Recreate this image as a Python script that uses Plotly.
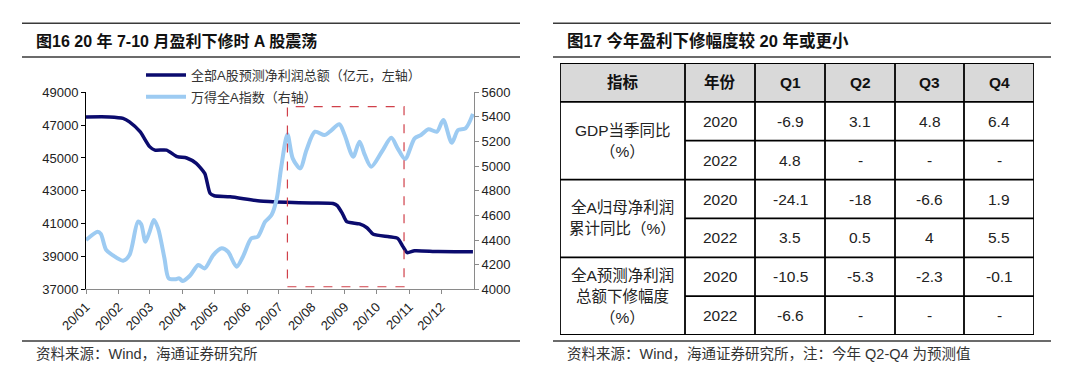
import plotly.graph_objects as go

# ---------------- data: left chart ----------------
profit_dates = ["2020-01-01", "2020-01-23", "2020-02-05", "2020-02-11", "2020-02-21", "2020-03-01",
                "2020-03-06", "2020-03-17", "2020-03-27", "2020-04-05", "2020-04-14", "2020-04-22",
                "2020-04-27", "2020-05-01", "2020-05-16", "2020-06-13", "2020-07-08", "2020-08-01",
                "2020-08-21", "2020-08-25", "2020-08-30", "2020-09-03", "2020-09-15", "2020-09-22",
                "2020-09-28", "2020-10-13", "2020-10-21", "2020-10-26", "2020-10-30", "2020-11-06",
                "2020-11-28", "2020-12-31"]
profit_values = [47500, 47500, 47410, 47200, 46600, 45690,
                 45480, 45480, 45080, 45000, 44670, 44060,
                 42850, 42700, 42640, 42380, 42300, 42260,
                 42230, 42100, 41600, 41120, 40980, 40750,
                 40350, 40200, 40100, 39600, 39230, 39350,
                 39300, 39290]

index_dates = ["2020-01-01", "2020-01-12", "2020-01-15", "2020-01-20", "2020-01-26", "2020-02-05",
               "2020-02-11", "2020-02-19", "2020-02-22", "2020-02-26", "2020-03-01", "2020-03-05",
               "2020-03-09", "2020-03-15", "2020-03-19", "2020-03-25", "2020-03-29", "2020-04-01",
               "2020-04-08", "2020-04-16", "2020-04-22", "2020-04-30", "2020-05-08", "2020-05-14",
               "2020-05-22", "2020-05-28", "2020-06-05", "2020-06-11", "2020-06-18", "2020-06-24",
               "2020-06-29", "2020-07-03", "2020-07-09", "2020-07-14", "2020-07-21", "2020-07-27",
               "2020-08-04", "2020-08-13", "2020-08-18", "2020-08-27", "2020-09-01", "2020-09-09",
               "2020-09-15", "2020-09-20", "2020-09-26", "2020-10-06", "2020-10-15", "2020-10-21",
               "2020-10-28", "2020-11-06", "2020-11-12", "2020-11-19", "2020-11-27", "2020-12-03",
               "2020-12-11", "2020-12-17", "2020-12-24", "2020-12-31"]
index_values = [4400, 4468, 4450, 4320, 4278, 4232,
                4278, 4549, 4530, 4387, 4468, 4563,
                4495, 4252, 4089, 4081, 4089, 4067,
                4110, 4197, 4170, 4278, 4333, 4305,
                4184, 4265, 4414, 4427, 4549, 4603,
                4739, 4982, 5260, 5064, 4982, 5131,
                5280, 5253, 5280, 5340, 5253, 5077,
                5199, 5091, 4996, 5117, 5230, 5145,
                5058, 5226, 5253, 5300, 5280, 5375,
                5190, 5294, 5307, 5425]

month_ticks = ["2020-%02d-01" % m for m in range(1, 13)]
month_labels = ["20/%02d" % m for m in range(1, 13)]
highlight_period = ["2020-07-09", "2020-10-27"]

left_ticks = [37000, 39000, 41000, 43000, 45000, 47000, 49000]
right_ticks = [4000, 4200, 4400, 4600, 4800, 5000, 5200, 5400, 5600]

series_names = ["全部A股预测净利润总额（亿元，左轴）", "万得全A指数（右轴）"]

# ---------------- data: table ----------------
table_header = ["指标", "年份", "Q1", "Q2", "Q3", "Q4"]
indicator_labels = [["GDP当季同比", "（%）"],
                    ["全A归母净利润", "累计同比（%）"],
                    ["全A预测净利润", "总额下修幅度", "（%）"]]
years = ["2020", "2022"]
gdp_2020 = [-6.9, 3.1, 4.8, 6.4]
gdp_2022 = [4.8, None, None, None]
npyoy_2020 = [-24.1, -18, -6.6, 1.9]
npyoy_2022 = [3.5, 0.5, 4, 5.5]
revision_2020 = [-10.5, -5.3, -2.3, -0.1]
revision_2022 = [-6.6, None, None, None]
table_rows = [gdp_2020, gdp_2022, npyoy_2020, npyoy_2022, revision_2020, revision_2022]

# ---------------- layout helpers ----------------
# the page body has an 8px margin; the figure is sized so that it fits the window exactly
OFF = 8
W, H = 1064, 366
def pxx(x): return (x - OFF) / W
def pyy(y): return 1 - (y - OFF) / H

FONT = "Liberation Sans, Arial, Noto Sans CJK SC, sans-serif"
TXT = "#222222"

fig = go.Figure()

fig.add_trace(go.Scatter(
    x=profit_dates, y=profit_values, name=series_names[0], mode="lines",
    line=dict(color="#0B0B6E", width=3.5, shape="spline", smoothing=0.6),
    xaxis="x", yaxis="y", legendgroup="g1"))
fig.add_trace(go.Scatter(
    x=index_dates, y=index_values, name=series_names[1], mode="lines",
    line=dict(color="#9DCBF2", width=4, shape="spline", smoothing=0.8),
    xaxis="x", yaxis="y2", legendgroup="g2"))

shapes = []
annotations = []

# highlight rectangle
shapes.append(dict(type="rect", xref="x", yref="y domain",
                   x0=highlight_period[0], x1=highlight_period[1], y0=0.013, y1=0.927,
                   line=dict(color="#D0404A", width=1.2, dash="dash"), fillcolor="rgba(0,0,0,0)"))

# panel rules
for (x0, x1) in [(22, 520), (553, 1051)]:
    for y in (23.3, 57, 341):
        shapes.append(dict(type="line", xref="paper", yref="paper",
                           x0=pxx(x0), x1=pxx(x1), y0=pyy(y), y1=pyy(y),
                           line=dict(color="#3a3a3a", width=1.6)))

# titles & sources
annotations.append(dict(xref="paper", yref="paper", x=pxx(34), y=pyy(41), xanchor="left", yanchor="middle",
                        text="<b>图16 20 年 7-10 月盈利下修时 A 股震荡</b>", showarrow=False,
                        font=dict(family=FONT, size=16, color="#111")))
annotations.append(dict(xref="paper", yref="paper", x=pxx(565), y=pyy(41), xanchor="left", yanchor="middle",
                        text="<b>图17 今年盈利下修幅度较 20 年或更小</b>", showarrow=False,
                        font=dict(family=FONT, size=16.5, color="#111")))
annotations.append(dict(xref="paper", yref="paper", x=pxx(34), y=pyy(354), xanchor="left", yanchor="middle",
                        text="资料来源：Wind，海通证券研究所", showarrow=False,
                        font=dict(family=FONT, size=14.5, color="#333")))
annotations.append(dict(xref="paper", yref="paper", x=pxx(565), y=pyy(354), xanchor="left", yanchor="middle",
                        text="资料来源：Wind，海通证券研究所，注：今年 Q2-Q4 为预测值", showarrow=False,
                        font=dict(family=FONT, size=14.5, color="#333")))

# ---------------- table (drawn on hidden axes x3/y3) ----------------
col_w = [125, 70, 70, 70, 69, 70]
col_edges = [0]
for w in col_w:
    col_edges.append(col_edges[-1] + w)
row_h = 272 / 7.0
n_rows = 7
row_edges = [i * row_h for i in range(n_rows + 1)]
TW, TH = col_edges[-1], row_edges[-1]

shapes.append(dict(type="rect", xref="x3", yref="y3", x0=0, x1=TW, y0=0, y1=row_h,
                   fillcolor="#D9D9D9", line=dict(width=0), layer="below"))
LW = 1.8
for i, y in enumerate(row_edges):
    x0 = 0 if i in (0, 1, 3, 5, 7) else col_edges[1]
    shapes.append(dict(type="line", xref="x3", yref="y3", x0=x0, x1=TW, y0=y, y1=y,
                       line=dict(color="#000", width=LW)))
for x in col_edges:
    shapes.append(dict(type="line", xref="x3", yref="y3", x0=x, x1=x, y0=0, y1=TH,
                       line=dict(color="#000", width=LW)))

def cx(c): return (col_edges[c] + col_edges[c + 1]) / 2
def cy(r): return (row_edges[r] + row_edges[r + 1]) / 2

for c, h in enumerate(table_header):
    annotations.append(dict(xref="x3", yref="y3", x=cx(c), y=cy(0), text="<b>%s</b>" % h, showarrow=False,
                            font=dict(family=FONT, size=15.5, color="#111")))
LINE_GAP = 21
for g, lines in enumerate(indicator_labels):
    center = row_edges[1 + 2 * g + 1]
    n = len(lines)
    for k, ln in enumerate(lines):
        annotations.append(dict(xref="x3", yref="y3", x=cx(0), y=center + (k - (n - 1) / 2) * LINE_GAP,
                                text=ln, showarrow=False, yanchor="middle",
                                font=dict(family=FONT, size=15.5, color=TXT)))
for r, vals in enumerate(table_rows):
    annotations.append(dict(xref="x3", yref="y3", x=cx(1), y=cy(r + 1), text=years[r % 2], showarrow=False,
                            font=dict(family=FONT, size=15.5, color=TXT)))
    for c, v in enumerate(vals):
        t = "-" if v is None else ("%g" % v)
        annotations.append(dict(xref="x3", yref="y3", x=cx(c + 2), y=cy(r + 1), text=t, showarrow=False,
                                font=dict(family=FONT, size=15.5, color=TXT)))

tick_font = dict(family=FONT, size=13, color="#222")

fig.update_layout(
    width=W, height=H, margin=dict(l=0, r=0, t=0, b=0, autoexpand=False),
    paper_bgcolor="white", plot_bgcolor="white",
    font=dict(family=FONT, size=12, color="#222"),
    showlegend=True,
    legend=dict(x=pxx(141), y=pyy(60), xanchor="left", yanchor="top", bgcolor="rgba(0,0,0,0)",
                font=dict(family=FONT, size=13, color="#333"), tracegroupgap=2, itemwidth=40),
    xaxis=dict(domain=[pxx(86), pxx(474)], type="date", range=["2020-01-01", "2021-01-01"],
               tickvals=month_ticks, ticktext=month_labels, tickangle=-45, tickfont=tick_font,
               showline=True, linecolor="#8a8a8a", linewidth=1, ticks="outside", ticklen=4,
               tickcolor="#8a8a8a", showgrid=False, zeroline=False, anchor="y", fixedrange=True,
               automargin=False),
    yaxis=dict(domain=[pyy(289.3), pyy(92.3)], range=[37000, 49000], tickvals=left_ticks,
               ticktext=[str(v) for v in left_ticks],
               tickfont=tick_font, showline=True, linecolor="#000", linewidth=1, ticks="outside",
               ticklen=4, tickcolor="#000", showgrid=False, zeroline=False, anchor="x", fixedrange=True,
               automargin=False),
    yaxis2=dict(overlaying="y", side="right", range=[4000, 5600], tickvals=right_ticks,
                ticktext=[str(v) for v in right_ticks], tickfont=tick_font,
                showline=True, linecolor="#8a8a8a", linewidth=1, ticks="outside", ticklen=4,
                tickcolor="#8a8a8a", showgrid=False, zeroline=False, anchor="x", fixedrange=True,
                automargin=False),
    xaxis3=dict(domain=[pxx(560), pxx(1034)], range=[0, TW], visible=False, anchor="y3", fixedrange=True,
                automargin=False),
    yaxis3=dict(domain=[pyy(335), pyy(63)], range=[TH, 0], visible=False, anchor="x3", fixedrange=True,
                automargin=False),
    shapes=shapes, annotations=annotations,
)

fig.write_html("out.html")
